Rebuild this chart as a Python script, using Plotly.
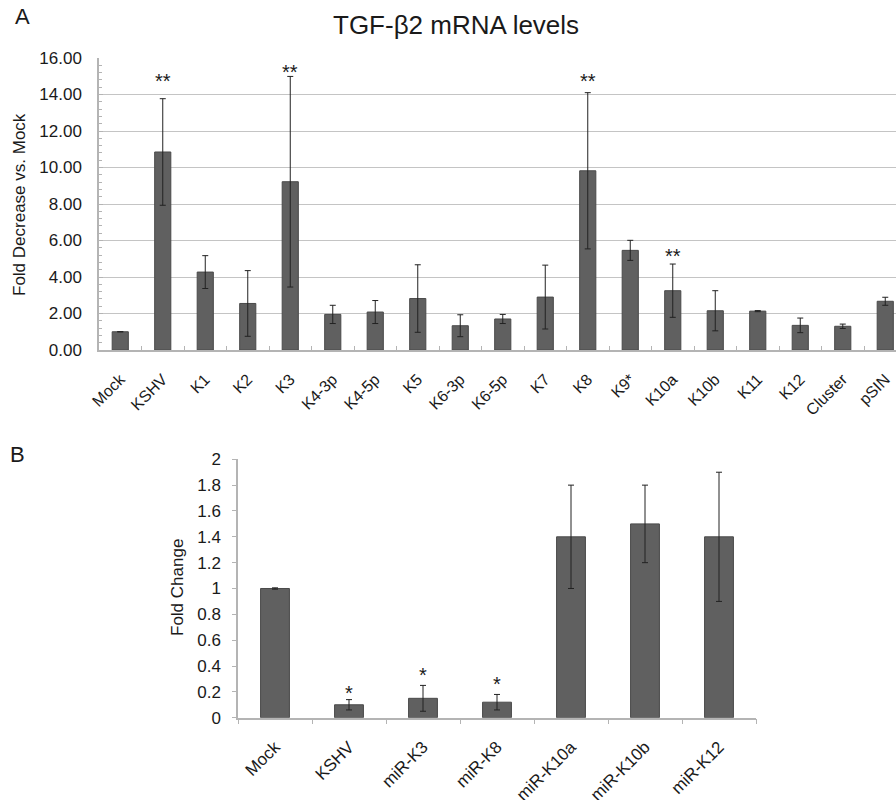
import plotly.graph_objects as go

# ---------------- Data ----------------
cats_a = ["Mock", "KSHV", "K1", "K2", "K3", "K4-3p", "K4-5p", "K5", "K6-3p", "K6-5p",
          "K7", "K8", "K9*", "K10a", "K10b", "K11", "K12", "Cluster", "pSIN"]
vals_a = [1.00, 10.85, 4.27, 2.55, 9.22, 1.95, 2.08, 2.82, 1.33, 1.70,
          2.90, 9.82, 5.46, 3.25, 2.15, 2.13, 1.35, 1.30, 2.67]
err_a = [0.00, 2.92, 0.90, 1.80, 5.77, 0.50, 0.63, 1.85, 0.60, 0.25,
         1.75, 4.28, 0.55, 1.46, 1.10, 0.03, 0.40, 0.12, 0.22]
stars_a_cats = ["KSHV", "K3", "K8", "K10a"]
stars_a_y = [15.0, 15.5, 15.0, 5.42]
yticks_a = [0, 2, 4, 6, 8, 10, 12, 14, 16]

cats_b = ["Mock", "KSHV", "miR-K3", "miR-K8", "miR-K10a", "miR-K10b", "miR-K12"]
vals_b = [1.00, 0.10, 0.15, 0.12, 1.40, 1.50, 1.40]
err_b = [0.005, 0.04, 0.10, 0.06, 0.40, 0.30, 0.50]
stars_b_cats = ["KSHV", "miR-K3", "miR-K8"]
stars_b_y = [0.228, 0.367, 0.297]
yticks_b = [0, 0.2, 0.4, 0.6, 0.8, 1, 1.2, 1.4, 1.6, 1.8, 2]

# ---------------- Style ----------------
FONT = "Arial, 'Liberation Sans', sans-serif"
BAR = "#606060"
BAR_LINE = "#4a4a4a"
AXIS = "#b4b4b4"
GRID = "#c4c4c4"
TEXT = "#1a1a1a"

W, H = 896, 800
# Panel A pixel geometry
a_left, a_right = 99, 896
a_top, a_bottom = 58, 350
# Panel B pixel geometry
b_left, b_right = 238, 756
b_top, b_bottom = 459.3, 717.7

fig = go.Figure()

fig.add_trace(go.Bar(
    x=cats_a, y=vals_a, xaxis="x", yaxis="y",
    marker=dict(color=BAR, line=dict(color=BAR_LINE, width=1)),
    error_y=dict(type="data", array=err_a, visible=True, color="#222222",
                 thickness=1, width=3),
    width=0.38, showlegend=False,
))
fig.add_trace(go.Bar(
    x=cats_b, y=vals_b, xaxis="x2", yaxis="y2",
    marker=dict(color=BAR, line=dict(color=BAR_LINE, width=1)),
    error_y=dict(type="data", array=err_b, visible=True, color="#222222",
                 thickness=1, width=3),
    width=0.39, showlegend=False,
))

a_range_end = -0.5 + (a_right - a_left) / 42.5  # last category cut at the right edge

annotations = []
for c, yv in zip(stars_a_cats, stars_a_y):
    annotations.append(dict(x=c, y=yv, xref="x", yref="y", text="**", showarrow=False,
                            font=dict(size=20, color=TEXT, family=FONT), yanchor="middle",
                            yshift=-5))
for c, yv in zip(stars_b_cats, stars_b_y):
    annotations.append(dict(x=c, y=yv, xref="x2", yref="y2", text="*", showarrow=False,
                            font=dict(size=20, color=TEXT, family=FONT), yanchor="middle",
                            yshift=-5))

# Panel letters and titles
annotations += [
    dict(x=22 / W, y=1 - 16 / H, xref="paper", yref="paper", text="A", showarrow=False,
         font=dict(size=22, color=TEXT, family=FONT), xanchor="center", yanchor="middle"),
    dict(x=17 / W, y=1 - 454 / H, xref="paper", yref="paper", text="B", showarrow=False,
         font=dict(size=22, color=TEXT, family=FONT), xanchor="center", yanchor="middle"),
    dict(x=456 / W, y=1 - 25 / H, xref="paper", yref="paper", text="TGF-β2 mRNA levels",
         showarrow=False, font=dict(size=26, color=TEXT, family=FONT),
         xanchor="center", yanchor="middle"),
    dict(x=20 / W, y=1 - 205 / H, xref="paper", yref="paper", text="Fold Decrease vs. Mock",
         showarrow=False, textangle=-90, font=dict(size=17, color=TEXT, family=FONT),
         xanchor="center", yanchor="middle"),
    dict(x=177 / W, y=1 - 588 / H, xref="paper", yref="paper", text="Fold Change",
         showarrow=False, textangle=-90, font=dict(size=17, color=TEXT, family=FONT),
         xanchor="center", yanchor="middle"),
]

fig.update_layout(
    width=W, height=H,
    margin=dict(l=0, r=0, t=0, b=0, autoexpand=False),
    paper_bgcolor="white", plot_bgcolor="white",
    font=dict(family=FONT, color=TEXT),
    bargap=0.62,
    annotations=annotations,
    xaxis=dict(
        domain=[a_left / W, a_right / W], anchor="y", automargin=False,
        type="category", range=[-0.5, a_range_end],
        showline=True, linecolor=AXIS, linewidth=1.5,
        ticks="inside", tickson="boundaries", ticklen=4, tickcolor=AXIS,
        tickangle=-45, tickfont=dict(size=16, color=TEXT), ticklabelstandoff=12,
        showgrid=False, fixedrange=True,
    ),
    yaxis=dict(
        domain=[1 - a_bottom / H, 1 - a_top / H], anchor="x", automargin=False,
        range=[0, 16], tickvals=yticks_a, tickformat=".2f",
        showline=True, linecolor=AXIS, linewidth=1.5,
        ticks="inside", ticklen=4, tickcolor=AXIS,
        showgrid=True, gridcolor=GRID, gridwidth=1.2,
        zeroline=False,
        tickfont=dict(size=17, color=TEXT), ticklabelstandoff=12,
        minor=dict(dtick=0.4, ticks="inside", ticklen=3, tickcolor=AXIS, showgrid=False),
    ),
    xaxis2=dict(
        domain=[b_left / W, b_right / W], anchor="y2", automargin=False,
        type="category", range=[-0.5, 6.5],
        showline=True, linecolor=AXIS, linewidth=1.5,
        ticks="outside", tickson="boundaries", ticklen=5, tickcolor=AXIS,
        tickangle=-45, tickfont=dict(size=17, color=TEXT), ticklabelstandoff=11,
        showgrid=False,
    ),
    yaxis2=dict(
        domain=[1 - b_bottom / H, 1 - b_top / H], anchor="x2", automargin=False,
        range=[0, 2], tickvals=yticks_b, ticktext=[f"{v:g}" for v in yticks_b],
        showline=True, linecolor=AXIS, linewidth=1.5,
        ticks="outside", ticklen=4, tickcolor=AXIS,
        showgrid=False, zeroline=False,
        tickfont=dict(size=17, color=TEXT), ticklabelstandoff=8,
    ),
)

fig.write_html(
    "out.html",
    config={"displayModeBar": False},
    post_script="document.body.style.margin='0';document.body.style.padding='0';"
                "document.body.style.overflow='hidden';",
)
